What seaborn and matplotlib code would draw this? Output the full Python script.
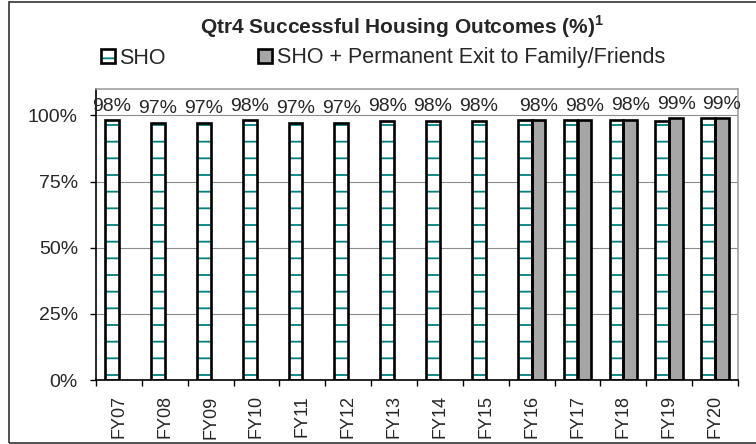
import numpy as np
import pandas as pd
import seaborn as sns
import matplotlib.pyplot as plt
from matplotlib.patches import Patch, Rectangle

years = ['FY07', 'FY08', 'FY09', 'FY10', 'FY11', 'FY12', 'FY13',
         'FY14', 'FY15', 'FY16', 'FY17', 'FY18', 'FY19', 'FY20']
sho = [98.1, 97.3, 97.3, 98.2, 97.3, 97.3, 97.9,
       98.0, 98.0, 98.1, 98.1, 98.1, 97.9, 98.9]
sho_family = [np.nan] * 9 + [98.2, 98.2, 98.3, 99.0, 98.9]
series = ['SHO', 'SHO + Permanent Exit to Family/Friends']
yticks = [0, 25, 50, 75, 100]

df = pd.DataFrame({
    'year': years * 2,
    'series': [series[0]] * len(years) + [series[1]] * len(years),
    'value': sho + sho_family,
}).dropna()

sns.set_theme(style='white')
plt.rcParams['font.family'] = ['Liberation Sans', 'DejaVu Sans']
plt.rcParams['mathtext.fontset'] = 'custom'
plt.rcParams['mathtext.rm'] = 'Liberation Sans'
plt.rcParams['mathtext.bf'] = 'Liberation Sans:bold'
plt.rcParams['hatch.linewidth'] = 1.3

teal = '#008080'
grey = '#a6a6a6'

fig = plt.figure(figsize=(7.56, 4.44), dpi=100)
ax = fig.add_axes([96 / 756, 1 - 380 / 444, (738 - 96) / 756, (380 - 89) / 444])

# fill layer
sns.barplot(data=df, x='year', y='value', hue='series', order=years, hue_order=series,
            palette={series[0]: 'white', series[1]: grey}, width=0.6, gap=0,
            edgecolor=teal, linewidth=0, legend=False, ax=ax, zorder=2)
for p in ax.containers[0]:
    p.set_hatch('-')

# outline layer
sns.barplot(data=df, x='year', y='value', hue='series', order=years, hue_order=series,
            palette={series[0]: 'black', series[1]: 'black'}, width=0.6, gap=0,
            fill=False, linewidth=1.9, legend=False, ax=ax, zorder=3)

# data labels: SHO for FY07-FY15, combined series afterwards
lab_sho = [f'{v:.0f}%' if i < 9 else '' for i, v in enumerate(sho)]
lab_fam = [f'{v:.0f}%' for v in sho_family if not np.isnan(v)]
ax.bar_label(ax.containers[0], labels=lab_sho, padding=4, fontsize=14)
ax.bar_label(ax.containers[1], labels=lab_fam, padding=4, fontsize=14)

ax.set_ylim(0, 110)
ax.set_yticks(yticks)
ax.set_yticklabels([f'{t}%' for t in yticks])
ax.set_xlim(-0.5, len(years) - 0.5)
ax.set_xlabel('')
ax.set_ylabel('')
ax.yaxis.grid(True, color='#8c8c8c', linewidth=0.8, zorder=0)
ax.set_axisbelow(True)

ax.set_xticks(np.arange(len(years) + 1) - 0.5, minor=True)
ax.tick_params(axis='x', which='major', length=0, pad=11, labelsize=13, labelrotation=90)
ax.tick_params(axis='x', which='minor', length=4.5, width=1, color='black', direction='out')
ax.tick_params(axis='y', length=4, width=1, color='black', direction='out', pad=9, labelsize=14)
ax.tick_params(bottom=True, left=True, which='both')
for lab in ax.get_xticklabels():
    lab.set_va('top')

for s in ['top', 'right']:
    ax.spines[s].set_color('#a0a0a0')
    ax.spines[s].set_linewidth(1.2)
for s in ['left', 'bottom']:
    ax.spines[s].set_color('black')
    ax.spines[s].set_linewidth(1.2)

fig.text(402 / 756, 1 - 27 / 444, r'Qtr4 Successful Housing Outcomes (%)$^\mathbf{1}$',
         ha='center', va='center', fontsize=15, fontweight='bold')

h_sho = (Patch(facecolor='white', edgecolor=teal, linewidth=0, hatch='-'),
         Patch(facecolor='none', edgecolor='black', linewidth=1.9))
h_fam = Patch(facecolor=grey, edgecolor='black', linewidth=1.9)
fig.legend([h_sho, h_fam], series, loc='center left',
           bbox_to_anchor=(101 / 756, 1 - 58 / 444), ncol=2, frameon=False,
           fontsize=15.5, handlelength=0.65, handleheight=0.65, handletextpad=0.2,
           columnspacing=4.3, borderpad=0, borderaxespad=0)

fig.patches.append(Rectangle((9 / 756, 1 / 444), 1.2, 441 / 444, transform=fig.transFigure,
                             fill=False, edgecolor='#333333', linewidth=1.2))

fig.savefig('out.png', dpi=100)
